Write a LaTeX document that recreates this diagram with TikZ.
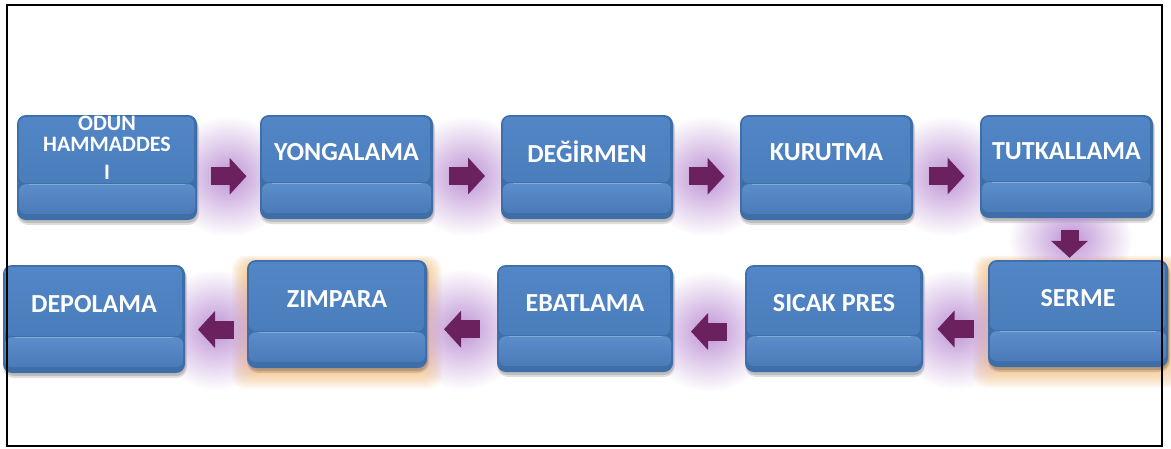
\documentclass[tikz,border=0pt]{standalone}
\usepackage{fontspec}
\setmainfont{Carlito}
\usetikzlibrary{calc,arrows.meta,fadings}
\definecolor{rim}{RGB}{62,110,168}
\definecolor{faceA}{RGB}{82,134,198}
\definecolor{faceB}{RGB}{74,125,188}
\definecolor{bandA}{RGB}{92,142,202}
\definecolor{bandB}{RGB}{74,122,184}
\definecolor{arrowc}{RGB}{106,33,94}
\definecolor{glowp}{RGB}{190,148,214}
\definecolor{glowo}{RGB}{248,178,96}
\pgfdeclarelayer{back}
\pgfdeclarelayer{bg}
\pgfsetlayers{back,bg,main}
\tikzfading[name=glowfade, inner color=transparent!0, outer color=transparent!100]
\tikzset{
  keybase/.style={rectangle, rounded corners=9pt, fill=rim, inner sep=0pt},
  keytext/.style={text=white, font=\bfseries\fontsize{26}{28}\selectfont, align=center, inner sep=0pt},
  flow/.style={draw=arrowc, line width=18pt, -{Triangle[width=36pt,length=17pt]}},
  glow/.style={fill=glowp, path fading=glowfade},
}
% #1 name, #2 cx, #3 cy, #4 w, #5 h, #6 text
\newcommand\keybox[6]{%
  \begin{pgfonlayer}{bg}
    \fill[black, opacity=.12, rounded corners=11pt] (#2-#4/2,#3-#5/2+2) rectangle (#2+#4/2+2,#3+#5/2+5);
    \fill[black, opacity=.15, rounded corners=10pt] (#2-#4/2+1,#3-#5/2+2) rectangle (#2+#4/2+1,#3+#5/2+3);
  \end{pgfonlayer}
  \node[keybase, minimum width=#4pt, minimum height=#5pt] (#1) at (#2,#3) {};
  \shade[top color=faceA, bottom color=faceB, rounded corners=7pt]
    ($(#1.north west)+(2,2)$) rectangle ($(#1.south east)+(-3,-37)$);
  \shade[top color=bandA, bottom color=bandB, rounded corners=7pt]
    ($(#1.south west)+(2,-36)$) rectangle ($(#1.south east)+(-2,-6)$);
  \draw[white, opacity=.25, line width=1pt] ($(#1.south west)+(12,-36)$) -- ($(#1.south east)+(-12,-36)$);
  \node[keytext] (#1-t) at ($(#1.center)+(0,-15)$) {#6};
}
% orange glow: cx cy w h
\newcommand\orglow[4]{%
  \begin{pgfonlayer}{bg}
    \foreach \k in {1,...,14}
      \fill[glowo, opacity=.055, rounded corners=14pt] (#1-#3/2-\k*1.1,#2-#4/2-\k*0.6+4) rectangle (#1+#3/2+\k*1.1,#2+#4/2+\k*1.3+3);
  \end{pgfonlayer}
}
% right arrow from #1 to #2, vertical offset #3
\newcommand\rarrow[3]{%
  \coordinate (m-#1) at ($(#1.east)!.5!(#2.west)$);
  \begin{pgfonlayer}{bg}
    \fill[glow] ($(m-#1)+(0,#3)$) ellipse [x radius=64pt, y radius=60pt];
  \end{pgfonlayer}
  \draw[flow] ($(m-#1)+(-18,#3)$) -- ($(m-#1)+(18,#3)$);
}
\newcommand\larrow[3]{%
  \coordinate (m-#1) at ($(#1.west)!.5!(#2.east)$);
  \begin{pgfonlayer}{bg}
    \fill[glow] ($(m-#1)+(0,#3)$) ellipse [x radius=64pt, y radius=60pt];
  \end{pgfonlayer}
  \draw[flow] ($(m-#1)+(18,#3)$) -- ($(m-#1)+(-18,#3)$);
}
\begin{document}
\begin{tikzpicture}[x=1pt,y=-1pt]
\useasboundingbox (0,0) rectangle (1171,448);
\begin{pgfonlayer}{back}
\fill[white] (0,0) rectangle (1171,448);
\end{pgfonlayer}
% orange glows
\orglow{337}{314}{180}{108}
\orglow{1078}{313.5}{180}{107}
% top row
\keybox{odun}{107}{167.5}{180}{105}{}
\node[text=white, font=\bfseries\fontsize{22}{21}\selectfont, align=center, inner sep=0pt, anchor=north] (odun-t2) at ($(odun.north)+(0,1)$) {ODUN\\HAMMADDES\\[7pt]I};
\keybox{yong}{346.5}{167}{173}{104}{YONGALAMA}
\keybox{degir}{587}{167}{172}{104}{DEĞİRMEN}
\keybox{kurut}{826.5}{167.5}{173}{105}{KURUTMA}
\keybox{tutk}{1066.5}{166.5}{173}{103}{TUTKALLAMA}
% bottom row
\keybox{depo}{94}{319}{182}{108}{DEPOLAMA}
\keybox{zimp}{337}{314}{180}{108}{ZIMPARA}
\keybox{ebat}{585}{318.5}{176}{107}{EBATLAMA}
\keybox{sicak}{834}{318.5}{178}{107}{SICAK PRES}
\keybox{serme}{1078}{313.5}{180}{107}{SERME}
% arrows
\rarrow{odun}{yong}{9}
\rarrow{yong}{degir}{9}
\rarrow{degir}{kurut}{9}
\rarrow{kurut}{tutk}{9}
\coordinate (md) at ($(tutk.south)!.5!(tutk.south |- serme.north)$);
\begin{pgfonlayer}{bg}
  \fill[glow] ($(md)+(4,0)$) ellipse [x radius=62pt, y radius=52pt];
\end{pgfonlayer}
\draw[flow] ($(tutk.south)+(3,12)$) -- ($(tutk.south |- serme.north)+(3,-2)$);
\larrow{serme}{sicak}{13}
\larrow{sicak}{ebat}{13}
\larrow{ebat}{zimp}{13}
\larrow{zimp}{depo}{13}
% frame
\draw[line width=2pt] (6.5,4.8) rectangle (1162,446.3);
\end{tikzpicture}
\end{document}
